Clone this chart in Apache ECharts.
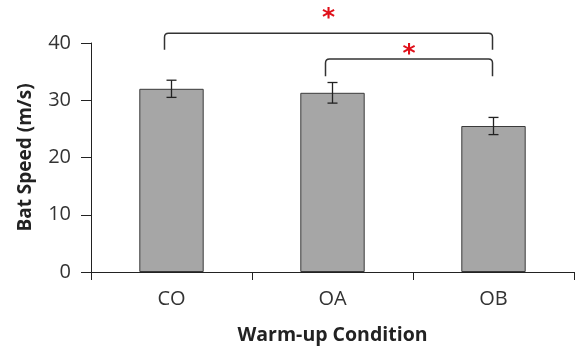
<!DOCTYPE html>
<html>
<head>
<meta charset="utf-8">
<script src="https://cdn.jsdelivr.net/npm/echarts@6/dist/echarts.min.js"></script>
<style>
  html, body { margin: 0; padding: 0; background: #fff; }
  #main { width: 578px; height: 351px; }
</style>
</head>
<body>
<div id="main"></div>
<script>
var categories = ['CO', 'OA', 'OB'];
var speeds = [32.0, 31.3, 25.5];
var errs = [1.5, 1.8, 1.5];
// brackets: [from index, to index, bar level, leg bottom]
var brackets = [
  [0, 2, 41.7, 38.8],
  [1, 2, 37.2, 34.2]
];

var chart = echarts.init(document.getElementById('main'));

var errData = speeds.map(function (v, i) { return [i, v - errs[i], v + errs[i]]; });

var option = {
  animation: false,
  textStyle: { fontFamily: 'Open Sans' },
  grid: { left: 91, right: 4, top: 43, bottom: 79 },
  xAxis: {
    type: 'category',
    data: categories,
    name: 'Warm-up Condition',
    nameLocation: 'middle',
    nameGap: 53,
    nameTextStyle: { fontSize: 19.5, fontWeight: 'bold', color: '#222' },
    axisLine: { lineStyle: { color: '#222', width: 1 } },
    axisTick: { show: true, length: 8, lineStyle: { color: '#222' } },
    axisLabel: { fontSize: 20, color: '#333', margin: 17 }
  },
  yAxis: {
    type: 'value',
    min: 0,
    max: 40,
    interval: 10,
    name: 'Bat Speed (m/s)',
    nameLocation: 'middle',
    nameGap: 56,
    nameTextStyle: { fontSize: 19, fontWeight: 'bold', color: '#222' },
    axisLine: { show: true, lineStyle: { color: '#222', width: 1 } },
    axisTick: { show: true, length: 10, lineStyle: { color: '#222' } },
    axisLabel: { fontSize: 20, color: '#333', margin: 20 },
    splitLine: { show: false }
  },
  series: [
    {
      type: 'bar',
      data: speeds,
      barWidth: '40%',
      itemStyle: { color: '#a6a6a6', borderColor: '#3a3a3a', borderWidth: 1 }
    },
    {
      type: 'custom',
      data: errData,
      z: 5,
      renderItem: function (params, api) {
        var x = api.value(0);
        var lo = api.coord([x, api.value(1)]);
        var hi = api.coord([x, api.value(2)]);
        var w = 5;
        var st = { stroke: '#222', lineWidth: 1.3 };
        return {
          type: 'group',
          children: [
            { type: 'line', shape: { x1: hi[0], y1: hi[1], x2: lo[0], y2: lo[1] }, style: st },
            { type: 'line', shape: { x1: hi[0] - w, y1: hi[1], x2: hi[0] + w, y2: hi[1] }, style: st },
            { type: 'line', shape: { x1: lo[0] - w, y1: lo[1], x2: lo[0] + w, y2: lo[1] }, style: st }
          ]
        };
      }
    },
    {
      type: 'custom',
      data: brackets,
      clip: false,
      z: 5,
      renderItem: function (params, api) {
        var a = api.coord([api.value(0), api.value(2)]);
        var b = api.coord([api.value(1), api.value(2)]);
        var aBot = api.coord([api.value(0), api.value(3)]);
        var x1 = a[0] - 7, x2 = b[0] - 1, y = a[1], yb = aBot[1], r = 4;
        var d = 'M' + x1 + ',' + yb + ' L' + x1 + ',' + (y + r) +
          ' Q' + x1 + ',' + y + ' ' + (x1 + r) + ',' + y +
          ' L' + (x2 - r) + ',' + y +
          ' Q' + x2 + ',' + y + ' ' + x2 + ',' + (y + r) +
          ' L' + x2 + ',' + yb;
        var off = params.dataIndex === 0 ? 15 : 5;
        return {
          type: 'group',
          children: [
            { type: 'path', shape: { pathData: d }, style: { fill: null, stroke: '#333', lineWidth: 1.5 } },
            {
              type: 'text',
              x: (x1 + x2) / 2,
              y: y - off,
              style: { text: '*', fill: '#e0101a', fontSize: 25, fontWeight: 'bold', align: 'center', verticalAlign: 'middle', fontFamily: 'DejaVu Sans' }
            }
          ]
        };
      }
    }
  ]
};

chart.setOption(option);
</script>
</body>
</html>
